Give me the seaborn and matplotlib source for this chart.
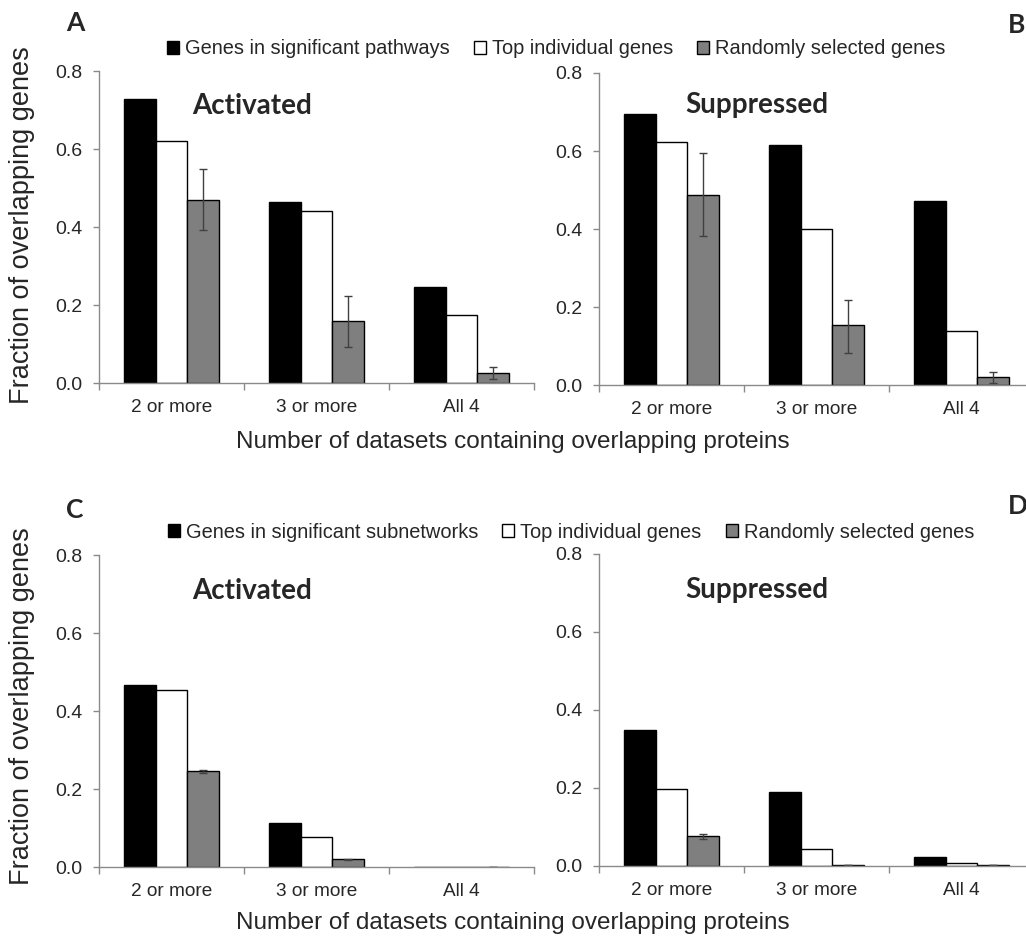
import pandas as pd
import seaborn as sns
from matplotlib import pyplot as plt
from matplotlib.patches import Patch

categories = ["2 or more", "3 or more", "All 4"]
names_top = ["Genes in significant pathways", "Top individual genes", "Randomly selected genes"]
names_bottom = ["Genes in significant subnetworks", "Top individual genes", "Randomly selected genes"]
colors = ["black", "white", "#7f7f7f"]

# A - pathways, activated
a_sig = [0.727, 0.465, 0.245]
a_top = [0.621, 0.441, 0.174]
a_rand = [0.469, 0.159, 0.025]
a_lo = [0.392, 0.093, 0.009]
a_hi = [0.548, 0.223, 0.040]

# B - pathways, suppressed
b_sig = [0.695, 0.616, 0.473]
b_top = [0.622, 0.400, 0.138]
b_rand = [0.487, 0.153, 0.020]
b_lo = [0.381, 0.082, 0.005]
b_hi = [0.594, 0.219, 0.033]

# C - subnetworks, activated
c_sig = [0.467, 0.114, 0.0]
c_top = [0.455, 0.076, 0.0]
c_rand = [0.245, 0.020, 0.0]
c_lo = [0.242, 0.019, 0.0]
c_hi = [0.248, 0.021, 0.0]

# D - subnetworks, suppressed
d_sig = [0.350, 0.191, 0.022]
d_top = [0.197, 0.044, 0.007]
d_rand = [0.077, 0.003, 0.003]
d_lo = [0.070, 0.003, 0.003]
d_hi = [0.082, 0.003, 0.003]

yticks = [0.0, 0.2, 0.4, 0.6, 0.8]

sns.set_style("white")
plt.rcParams['font.family'] = ['Liberation Sans', 'DejaVu Sans']
AXCOL = "#8a8a8a"
BOLD = "Lato"


def draw_panel(ax, sig, top, rand, lo, hi, names, title, tx, ty):
    df = pd.DataFrame({
        "category": categories * 3,
        "group": [n for n in names for _ in categories],
        "value": sig + top + rand,
    })
    sns.barplot(data=df, x="category", y="value", hue="group", hue_order=names,
                palette=colors, saturation=1, edgecolor="black", linewidth=1,
                width=0.655, errorbar=None, legend=False, ax=ax)
    bars = ax.containers[2]
    xs = [p.get_x() + p.get_width() / 2 for p in bars]
    yerr = [[r - l for r, l in zip(rand, lo)], [h - r for r, h in zip(rand, hi)]]
    ax.errorbar(xs, rand, yerr=yerr, fmt="none", ecolor="#404040",
                elinewidth=1, capsize=3, capthick=1)

    ax.set_xlim(-0.5, 2.5)
    ax.set_ylim(0, 0.8)
    ax.set_yticks(yticks, [f"{v:.1f}" for v in yticks])
    ax.set_xticks([-0.5, 0.5, 1.5, 2.5], ["", "", "", ""])
    ax.set_xticks(range(len(categories)), categories, minor=True)
    ax.set_xlabel("")
    ax.set_ylabel("")
    for s in ["top", "right"]:
        ax.spines[s].set_visible(False)
    for s in ["left", "bottom"]:
        ax.spines[s].set_color(AXCOL)
        ax.spines[s].set_linewidth(1)
    ax.tick_params(axis="y", which="major", direction="out", length=4, width=1,
                   color=AXCOL, labelsize=14, pad=8, left=True)
    ax.tick_params(axis="x", which="major", direction="out", length=5, width=1,
                   color=AXCOL, bottom=True)
    ax.tick_params(axis="x", which="minor", length=0, labelsize=13.7, pad=11.5)
    ax.text(tx, ty, title, transform=ax.transAxes, ha="center", va="center",
            fontsize=20, fontweight="bold", family=BOLD)


W, H = 1026, 940
fig = plt.figure(figsize=(W / 100, H / 100), dpi=100)
aw, ah = 435 / W, 312 / H
ax_a = fig.add_axes([99 / W, 1 - 383 / H, aw, ah])
ax_b = fig.add_axes([599 / W, 1 - 385 / H, aw, ah])
ax_c = fig.add_axes([99 / W, 1 - 867 / H, aw, ah])
ax_d = fig.add_axes([599 / W, 1 - 866 / H, aw, ah])

draw_panel(ax_a, a_sig, a_top, a_rand, a_lo, a_hi, names_top, "Activated", 0.352, 0.888)
draw_panel(ax_b, b_sig, b_top, b_rand, b_lo, b_hi, names_top, "Suppressed", 0.363, 0.897)
draw_panel(ax_c, c_sig, c_top, c_rand, c_lo, c_hi, names_bottom, "Activated", 0.352, 0.884)
draw_panel(ax_d, d_sig, d_top, d_rand, d_lo, d_hi, names_bottom, "Suppressed", 0.363, 0.884)

# shared labels
for yc in [225, 706]:
    fig.text(22 / W, 1 - yc / H, "Fraction of overlapping genes", rotation=90,
             ha="center", va="center", fontsize=19.5)
for yc in [442, 923]:
    fig.text(513 / W, 1 - yc / H, "Number of datasets containing overlapping proteins",
             ha="center", va="center", fontsize=17.5)

# panel letters
for letter, x, y in [("A", 75, 23), ("B", 1017, 25), ("C", 75, 510), ("D", 1018, 506)]:
    fig.text(x / W, 1 - y / H, letter, ha="center", va="center",
             fontsize=19, fontweight="bold", family=BOLD)

# legends
for names, xc, yc in [(names_top, 556, 49), (names_bottom, 571, 532)]:
    handles = [Patch(facecolor=c, edgecolor="black", linewidth=1) for c in colors]
    fig.legend(handles, names, loc="center", bbox_to_anchor=(xc / W, 1 - yc / H),
               ncol=3, frameon=False, fontsize=14.4, handlelength=0.6,
               handleheight=0.6, handletextpad=0.3, columnspacing=1.2)

fig.savefig("out.png", dpi=100)
